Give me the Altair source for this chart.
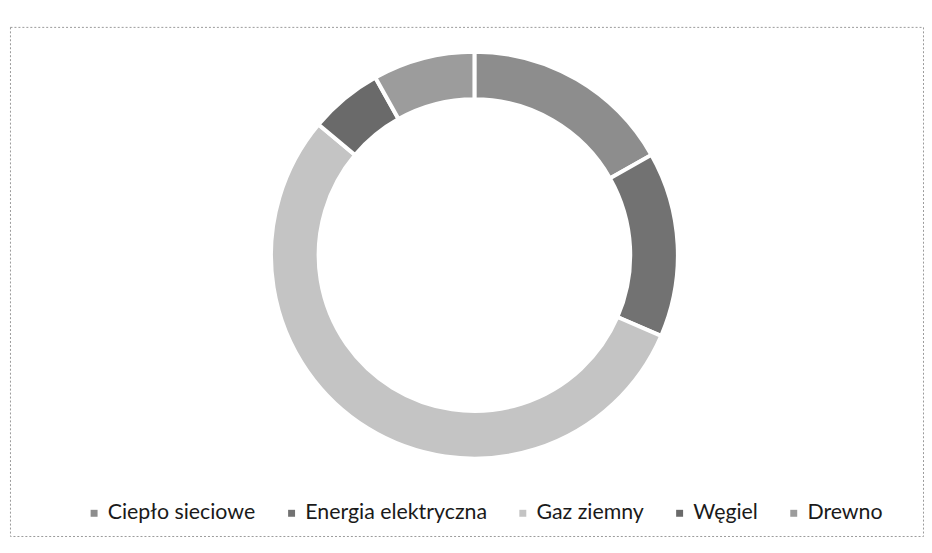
import altair as alt
import pandas as pd

categories = ["Ciepło sieciowe", "Energia elektryczna", "Gaz ziemny", "Węgiel", "Drewno"]
shares = [16.8, 14.7, 54.6, 5.8, 8.1]
colors = ["#8d8d8d", "#727272", "#c4c4c4", "#6a6a6a", "#9c9c9c"]

df = pd.DataFrame({"kategoria": categories, "udzial": shares, "kolejnosc": list(range(len(categories)))})

base = alt.Chart(df).mark_arc(
    innerRadius=157, outerRadius=205, stroke="white", strokeWidth=4
).encode(
    theta=alt.Theta("udzial:Q", stack=True),
    order=alt.Order("kolejnosc:Q"),
    x=alt.value(468),
    y=alt.value(230),
    color=alt.Color(
        "kategoria:N",
        scale=alt.Scale(domain=categories, range=colors),
        legend=alt.Legend(
            title=None,
            orient="none",
            direction="horizontal",
            legendX=74,
            legendY=479,
            padding=0,
            symbolType="square",
            symbolSize=49,
            symbolStrokeWidth=0,
            labelFont="Lato",
            labelFontSize=21.5,
            labelColor="#1a1a1a",
            labelLimit=400,
            columnPadding=25,
            labelOffset=3,
        ),
    ),
)

chart = base.properties(
    width=920, height=513, autosize=alt.AutoSizeParams(type="none"),
    padding={"left": 2, "top": 17, "right": 1, "bottom": 1}
).configure_view(
    stroke="#9a9a9a", strokeDash=[2, 2], strokeWidth=1
)

chart.save("out.html", embed_options={"renderer": "svg", "actions": False})
